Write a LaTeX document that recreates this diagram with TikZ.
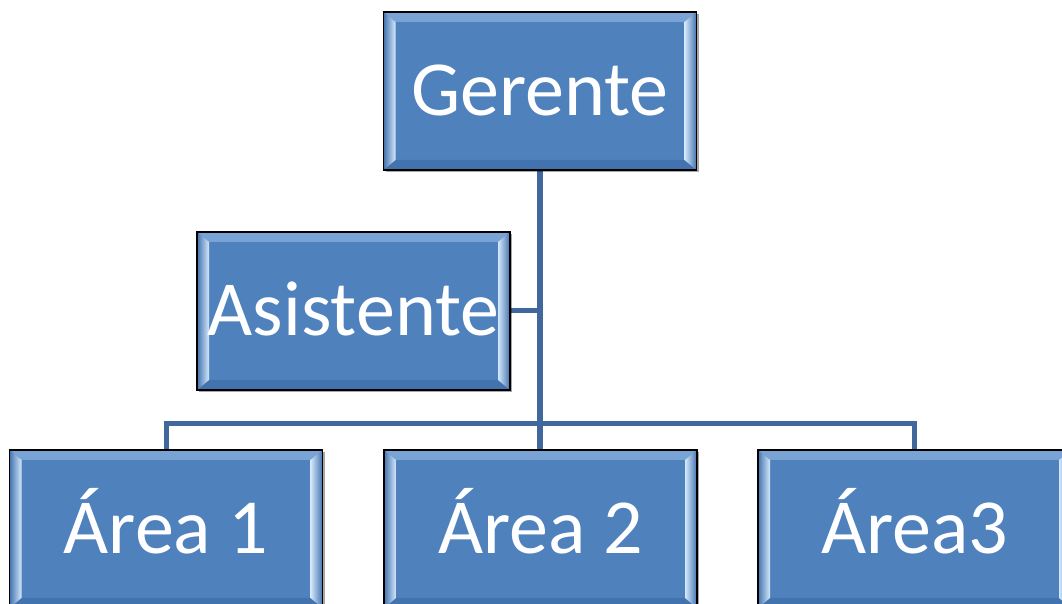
\documentclass[tikz,border=0pt]{standalone}
\usepackage{fontspec}
\setmainfont{Carlito}
\usetikzlibrary{shadows}
\definecolor{boxblue}{HTML}{4F81BD}
\definecolor{bevdark}{HTML}{4373AE}
\definecolor{bevlight}{HTML}{D4E8FC}
\definecolor{bevtop}{HTML}{79A3D4}
\definecolor{linkblue}{HTML}{41689C}
\tikzset{
  orgbox/.style={rectangle, draw=black, line width=1.3pt, fill=boxblue,
    minimum width=313pt, minimum height=158pt, inner sep=0pt,
    text=white, font=\fontsize{78}{80}\selectfont, text height=50pt, text depth=0pt,
    drop shadow={shadow xshift=2pt, shadow yshift=-2pt, opacity=0.35, fill=black},
    path picture={
      \coordinate (sw) at (path picture bounding box.south west);
      \coordinate (ne) at (path picture bounding box.north east);
      \coordinate (nw) at (sw |- ne);
      \coordinate (se) at (ne |- sw);
      \fill[bevtop] (nw) -- (ne) -- ([shift={(-12pt,-10pt)}]ne) -- ([shift={(12pt,-10pt)}]nw) -- cycle;
      \fill[bevdark] (sw) -- (se) -- ([shift={(-12pt,10pt)}]se) -- ([shift={(12pt,10pt)}]sw) -- cycle;
      \shade[left color=bevdark, right color=bevlight] (sw) -- (nw) -- ([shift={(12pt,-10pt)}]nw) -- ([shift={(12pt,10pt)}]sw) -- cycle;
      \shade[left color=bevlight, right color=bevdark] (se) -- (ne) -- ([shift={(-12pt,-10pt)}]ne) -- ([shift={(-12pt,10pt)}]se) -- cycle;
    }},
  link/.style={draw=linkblue, line width=6pt}
}
\begin{document}
\begin{tikzpicture}[x=1pt,y=1pt]
\useasboundingbox (0,0) rectangle (1062,604);
\clip (0,0) rectangle (1062,604);
\fill[white] (0,0) rectangle (1062,604);
% connectors (drawn first, boxes on top)
\coordinate (ger0) at (540,513);
\coordinate (asi0) at (353.5,293);
\coordinate (are10) at (166,75);
\coordinate (are20) at (540.5,75);
\coordinate (are30) at (914.5,75);
\coordinate (hb) at (540,180);
\draw[link] (ger0) -- (are20 -| ger0);
\draw[link, line width=5pt] (asi0) -- (asi0 -| ger0);
\draw[link, line width=5pt] (are10) |- (hb) -| (are30);
% boxes
\node[orgbox] (ger) at (ger0) {Gerente};
\node[orgbox] (asi) at (asi0) {Asistente};
\node[orgbox] (are1) at (are10) {Área 1};
\node[orgbox] (are2) at (are20) {Área 2};
\node[orgbox] (are3) at (are30) {Área3};
\end{tikzpicture}
\end{document}
